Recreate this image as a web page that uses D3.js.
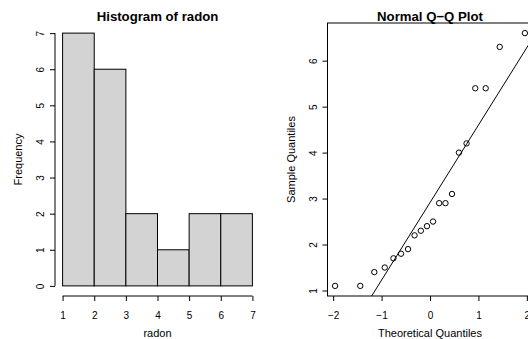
<!DOCTYPE html>
<html>
<head>
<meta charset="utf-8">
<script src="https://cdn.jsdelivr.net/npm/d3@7"></script>
<style>
  html, body { margin: 0; padding: 0; background: #fff; }
  svg { display: block; }
  text { font-family: "Liberation Sans", Arial, Helvetica, sans-serif; fill: #000; }
</style>
</head>
<body>
<svg id="chart" width="528" height="339"></svg>
<script>
// ---- data ----
const histBreaks = [1, 2, 3, 4, 5, 6, 7];
const histCounts = [7, 6, 2, 1, 2, 2];
const histXTicks = [1, 2, 3, 4, 5, 6, 7];
const histYTicks = [0, 1, 2, 3, 4, 5, 6, 7];

const sampleQuantiles = [1.1, 1.1, 1.4, 1.5, 1.7, 1.8, 1.9, 2.2, 2.3, 2.4,
                         2.5, 2.9, 2.9, 3.1, 4.0, 4.2, 5.4, 5.4, 6.3, 6.6];
const theoreticalQuantiles = [-1.960, -1.440, -1.150, -0.935, -0.755, -0.598, -0.454, -0.319, -0.189, -0.063,
                              0.063, 0.189, 0.319, 0.454, 0.598, 0.755, 0.935, 1.150, 1.440, 1.960];
const qqXTicks = [-2, -1, 0, 1, 2];
const qqYTicks = [1, 2, 3, 4, 5, 6];
const qqLine = { intercept: 2.9125, slope: 1.6865 };

// ---- layout ----
const svg = d3.select("#chart");
const plotTop = 23, plotBottom = 296;
const tickLen = 5;
const font = "Liberation Sans, Arial, sans-serif";
const minus = s => String(s).replace("-", "\u2212");

function ext(lo, hi) { const d = (hi - lo) * 0.04; return [lo - d, hi + d]; }

// ===== Histogram =====
{
  const left = 55, right = 260;
  const x = d3.scaleLinear().domain(ext(d3.min(histBreaks), d3.max(histBreaks))).range([left, right]);
  const y = d3.scaleLinear().domain(ext(0, d3.max(histCounts))).range([plotBottom, plotTop]);
  const g = svg.append("g");

  const bins = histCounts.map((c, i) => ({ x0: histBreaks[i], x1: histBreaks[i + 1], c }));
  g.selectAll("rect.bar").data(bins).join("rect")
    .attr("class", "bar")
    .attr("x", d => x(d.x0)).attr("width", d => x(d.x1) - x(d.x0))
    .attr("y", d => y(d.c)).attr("height", d => y(0) - y(d.c))
    .attr("fill", "#d3d3d3").attr("stroke", "#000").attr("stroke-width", 1);

  // x axis
  const xa = g.append("g").attr("transform", `translate(0,${plotBottom})`)
    .call(d3.axisBottom(x).tickValues(histXTicks).tickSize(tickLen).tickSizeOuter(0).tickFormat(d3.format("d")));
  xa.select(".domain").attr("d", `M${x(histXTicks[0])},0H${x(histXTicks[histXTicks.length-1])}`);
  xa.selectAll("text").attr("dy", null).attr("y", 22.5).attr("font-size", 10).attr("font-family", font);

  // y axis
  const ya = g.append("g").attr("transform", `translate(${left},0)`)
    .call(d3.axisLeft(y).tickValues(histYTicks).tickSize(tickLen).tickSizeOuter(0).tickFormat(d3.format("d")));
  ya.select(".domain").attr("d", `M0,${y(histYTicks[0])}V${y(histYTicks[histYTicks.length-1])}`);
  ya.selectAll(".tick text").attr("x", null).attr("dy", null)
    .attr("text-anchor", "middle").attr("transform", "translate(-11,0) rotate(-90)")
    .attr("font-size", 10).attr("font-family", font);

  g.append("text").attr("x", (left + right) / 2).attr("y", 20.5).attr("text-anchor", "middle")
    .attr("font-size", 13.2).attr("font-weight", "bold").text("Histogram of radon");
  g.append("text").attr("x", (left + right) / 2).attr("y", 336.5).attr("text-anchor", "middle")
    .attr("font-size", 11).text("radon");
  g.append("text").attr("transform", `translate(${left - 33},${(plotTop + plotBottom) / 2}) rotate(-90)`)
    .attr("text-anchor", "middle").attr("font-size", 11).text("Frequency");
}

// ===== Normal Q-Q =====
{
  const left = 327.5, right = 532.5;
  const x = d3.scaleLinear().domain(ext(d3.min(theoreticalQuantiles), d3.max(theoreticalQuantiles))).range([left, right]);
  const y = d3.scaleLinear().domain(ext(d3.min(sampleQuantiles), d3.max(sampleQuantiles))).range([plotBottom, plotTop]);
  const g = svg.append("g");

  svg.append("clipPath").attr("id", "qqclip").append("rect")
    .attr("x", left).attr("y", plotTop).attr("width", right - left).attr("height", plotBottom - plotTop);

  const [dx0, dx1] = x.domain();
  g.append("line").attr("clip-path", "url(#qqclip)")
    .attr("x1", x(dx0)).attr("y1", y(qqLine.intercept + qqLine.slope * dx0))
    .attr("x2", x(dx1)).attr("y2", y(qqLine.intercept + qqLine.slope * dx1))
    .attr("stroke", "#000").attr("stroke-width", 1);

  g.selectAll("circle.pt").data(sampleQuantiles.map((s, i) => [theoreticalQuantiles[i], s])).join("circle")
    .attr("class", "pt")
    .attr("cx", d => x(d[0])).attr("cy", d => y(d[1])).attr("r", 2.7)
    .attr("fill", "none").attr("stroke", "#000").attr("stroke-width", 1);

  g.append("rect").attr("x", left).attr("y", plotTop).attr("width", right - left).attr("height", plotBottom - plotTop)
    .attr("fill", "none").attr("stroke", "#000").attr("stroke-width", 1);

  const xa = g.append("g").attr("transform", `translate(0,${plotBottom})`)
    .call(d3.axisBottom(x).tickValues(qqXTicks).tickSize(tickLen).tickSizeOuter(0).tickFormat(d => minus(d)));
  xa.select(".domain").remove();
  xa.selectAll("text").attr("dy", null).attr("y", 22.5).attr("font-size", 10).attr("font-family", font);

  const ya = g.append("g").attr("transform", `translate(${left},0)`)
    .call(d3.axisLeft(y).tickValues(qqYTicks).tickSize(tickLen).tickSizeOuter(0).tickFormat(d3.format("d")));
  ya.select(".domain").remove();
  ya.selectAll(".tick text").attr("x", null).attr("dy", null)
    .attr("text-anchor", "middle").attr("transform", "translate(-11,0) rotate(-90)")
    .attr("font-size", 10).attr("font-family", font);

  g.append("text").attr("x", (left + right) / 2).attr("y", 20.5).attr("text-anchor", "middle")
    .attr("font-size", 13.2).attr("font-weight", "bold").text("Normal Q\u2212Q Plot");
  g.append("text").attr("x", (left + right) / 2).attr("y", 336.5).attr("text-anchor", "middle")
    .attr("font-size", 11).text("Theoretical Quantiles");
  g.append("text").attr("transform", `translate(${left - 33},${(plotTop + plotBottom) / 2}) rotate(-90)`)
    .attr("text-anchor", "middle").attr("font-size", 11).text("Sample Quantiles");
}
</script>
</body>
</html>
